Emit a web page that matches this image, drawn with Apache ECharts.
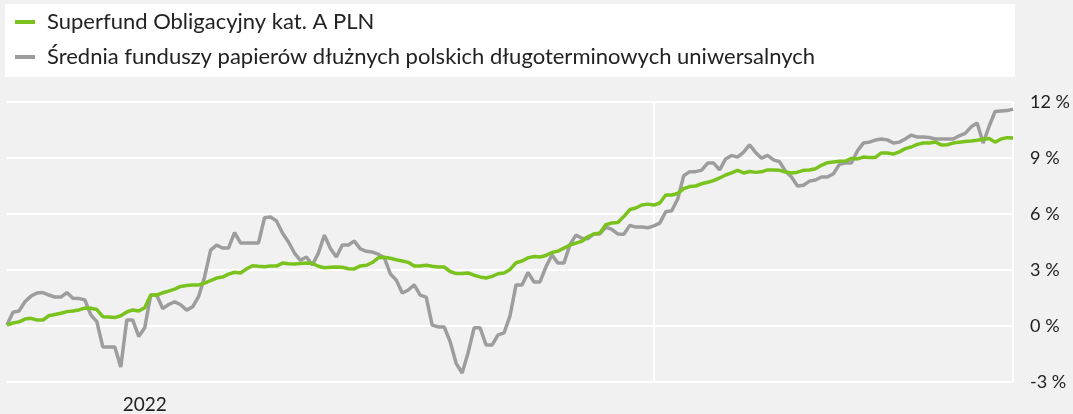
<!DOCTYPE html>
<html>
<head>
<meta charset="utf-8">
<script src="https://cdn.jsdelivr.net/npm/echarts@6/dist/echarts.min.js"></script>
<style>
  html, body { margin: 0; padding: 0; background: #f1f1f1; }
  #chart { width: 1073px; height: 414px; }
</style>
</head>
<body>
<div id="chart"></div>
<script>
// nazwy serii
var seriesNames = ['Superfund Obligacyjny kat. A PLN', 'Średnia funduszy papierów dłużnych polskich długoterminowych uniwersalnych'];

// stopa zwrotu w % (odczyt z wykresu)
var superfund = [
  0.05, 0.16, 0.22, 0.37, 0.41, 0.32, 0.32, 0.55, 0.62, 0.68,
  0.77, 0.80, 0.86, 0.96, 0.95, 0.88, 0.50, 0.48, 0.45, 0.55,
  0.75, 0.86, 0.80, 0.98, 1.66, 1.66, 1.78, 1.87, 1.98, 2.12,
  2.17, 2.20, 2.20, 2.30, 2.43, 2.57, 2.62, 2.78, 2.88, 2.84,
  3.06, 3.23, 3.20, 3.18, 3.21, 3.21, 3.37, 3.33, 3.32, 3.35,
  3.37, 3.35, 3.20, 3.12, 3.15, 3.16, 3.15, 3.07, 3.06, 3.22,
  3.25, 3.40, 3.65, 3.68, 3.63, 3.55, 3.48, 3.41, 3.21, 3.22,
  3.25, 3.20, 3.16, 3.16, 2.92, 2.81, 2.81, 2.84, 2.72, 2.63,
  2.57, 2.66, 2.80, 2.84, 3.03, 3.39, 3.48, 3.65, 3.72, 3.70,
  3.78, 3.94, 4.01, 4.17, 4.34, 4.44, 4.54, 4.78, 4.93, 4.98,
  5.43, 5.52, 5.54, 5.86, 6.24, 6.32, 6.48, 6.53, 6.48, 6.59,
  7.02, 7.02, 7.10, 7.36, 7.47, 7.50, 7.62, 7.70, 7.79, 7.93,
  8.09, 8.20, 8.34, 8.20, 8.28, 8.23, 8.26, 8.36, 8.36, 8.34,
  8.25, 8.20, 8.24, 8.34, 8.36, 8.42, 8.61, 8.75, 8.79, 8.82,
  8.84, 8.98, 8.95, 9.05, 9.03, 9.03, 9.27, 9.27, 9.21, 9.33,
  9.50, 9.59, 9.73, 9.80, 9.80, 9.86, 9.70, 9.71, 9.80, 9.85,
  9.88, 9.91, 9.95, 10.00, 10.05, 9.85, 10.02, 10.09, 10.07
];

var srednia = [
  0.05, 0.74, 0.80, 1.30, 1.60, 1.77, 1.79, 1.66, 1.55, 1.55,
  1.79, 1.49, 1.47, 1.40, 0.60, 0.23, -1.12, -1.12, -1.12, -2.20,
  0.32, 0.32, -0.56, -0.10, 1.66, 1.66, 0.94, 1.15, 1.30, 1.14,
  0.85, 1.03, 1.58, 2.64, 4.07, 4.33, 4.18, 4.18, 5.00, 4.45,
  4.45, 4.45, 4.45, 5.80, 5.84, 5.63, 4.98, 4.50, 3.91, 3.52,
  3.70, 3.27, 3.91, 4.87, 4.15, 3.70, 4.34, 4.34, 4.55, 4.13,
  4.00, 3.96, 3.85, 3.66, 2.80, 2.46, 1.77, 1.93, 2.20, 1.65,
  1.55, 0.05, -0.05, -0.05, -0.84, -2.00, -2.52, -1.43, -0.10, -0.10,
  -1.02, -1.02, -0.48, -0.37, 0.55, 2.20, 2.20, 2.87, 2.36, 2.36,
  3.17, 3.80, 3.37, 3.37, 4.36, 4.87, 4.70, 4.68, 4.93, 4.93,
  5.30, 5.17, 4.93, 4.91, 5.39, 5.30, 5.30, 5.26, 5.36, 5.51,
  6.12, 6.17, 6.80, 8.05, 8.27, 8.27, 8.35, 8.73, 8.73, 8.36,
  8.95, 9.13, 9.05, 9.31, 9.70, 9.30, 8.99, 9.14, 8.90, 8.80,
  8.29, 7.98, 7.50, 7.54, 7.76, 7.82, 7.98, 7.98, 8.16, 8.66,
  8.73, 8.73, 9.38, 9.80, 9.85, 9.96, 10.02, 9.97, 9.80, 9.85,
  10.02, 10.23, 10.12, 10.12, 10.10, 10.02, 10.02, 10.02, 10.02, 10.19,
  10.32, 10.67, 10.87, 9.80, 10.70, 11.49, 11.52, 11.54, 11.62
];

// opisy osi X
var xTickIndex = [23];
var xTickLabels = ['2022'];
var xGridIndex = [108, 168];

var categories = superfund.map(function (v, i) { return i; });

var myChart = echarts.init(document.getElementById('chart'));
var option = {
    backgroundColor: '#f1f1f1',
    animation: false,
    textStyle: { fontFamily: 'Lato' },
    graphic: [{
        type: 'rect',
        left: 5,
        top: 4,
        z: -1,
        shape: { width: 1010, height: 73 },
        style: { fill: '#ffffff' }
    }],
    legend: {
        orient: 'vertical',
        left: 15,
        top: 11,
        padding: 0,
        itemGap: 13,
        itemWidth: 20,
        itemHeight: 4,
        icon: 'rect',
        textStyle: {
            fontFamily: 'Lato',
            fontSize: 22,
            color: '#222',
            lineHeight: 22,
            padding: [0, 0, 0, 7]
        },
        data: seriesNames
    },
    grid: {
        left: 7,
        right: 58,
        top: 102,
        bottom: 32
    },
    xAxis: {
        type: 'category',
        boundaryGap: false,
        data: categories,
        axisLine: { show: false },
        axisTick: { show: false },
        axisLabel: {
            interval: function (index) { return xTickIndex.indexOf(index) >= 0; },
            formatter: function (value, index) {
                var k = xTickIndex.indexOf(Number(value));
                return k >= 0 ? xTickLabels[k] : '';
            },
            margin: 13,
            fontSize: 19,
            color: '#222'
        },
        splitLine: {
            show: true,
            interval: function (index) { return xGridIndex.indexOf(index) >= 0; },
            lineStyle: { color: '#ffffff', width: 2 }
        }
    },
    yAxis: {
        type: 'value',
        position: 'right',
        min: -3,
        max: 12,
        interval: 3,
        axisLine: { show: false },
        axisTick: { show: false },
        axisLabel: {
            formatter: '{value} %',
            margin: 17,
            fontSize: 18,
            color: '#222'
        },
        splitLine: {
            lineStyle: { color: '#ffffff', width: 2 }
        }
    },
    series: [
        {
            name: seriesNames[1],
            type: 'line',
            data: srednia,
            symbol: 'none',
            color: '#9d9d9d',
            lineStyle: { width: 3.5, color: '#9d9d9d' },
            z: 2
        },
        {
            name: seriesNames[0],
            type: 'line',
            data: superfund,
            symbol: 'none',
            color: '#7ac21e',
            lineStyle: { width: 3.5, color: '#7ac21e' },
            z: 3
        }
    ]
};
myChart.setOption(option);
window.onresize = function () {
    myChart.resize();
};
</script>
</body>
</html>
